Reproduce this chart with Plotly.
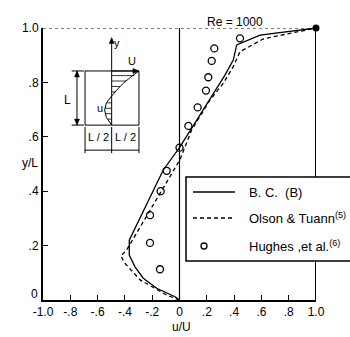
import plotly.graph_objects as go

# Centre-line velocity profile u/U versus height y/L, lid-driven cavity, Re = 1000
bc_u = [0.0, -0.033, -0.167, -0.265, -0.326, -0.368, -0.368, -0.119, 0.0, 0.333, 0.394, 0.419, 0.59, 1.0]
bc_y = [0.0, 0.012, 0.043, 0.08, 0.122, 0.165, 0.22, 0.478, 0.56, 0.827, 0.882, 0.938, 0.974, 1.0]

olson_u = [0.0, -0.094, -0.289, -0.40, -0.43, -0.387, -0.106, 0.004, 0.089, 0.223, 0.321, 0.394, 0.443, 0.614, 1.0]
olson_y = [0.0, 0.018, 0.074, 0.135, 0.162, 0.184, 0.423, 0.517, 0.625, 0.735, 0.797, 0.858, 0.913, 0.96, 1.0]

hughes_u = [-0.143, -0.216, -0.216, -0.138, -0.094, 0.0, 0.065, 0.133, 0.194, 0.211, 0.236, 0.255, 0.443]
hughes_y = [0.113, 0.21, 0.312, 0.40, 0.475, 0.56, 0.64, 0.708, 0.77, 0.819, 0.879, 0.925, 0.962]

series_names = ["B. C.  (B)", "Olson & Tuann<sup>(5)</sup>", "Hughes ,et al.<sup>(6)</sup>"]

x_ticks = [-1.0, -0.8, -0.6, -0.4, -0.2, 0.0, 0.2, 0.4, 0.6, 0.8, 1.0]
x_tick_text = ["-1.0", "-.8", "-.6", "-.4", "-.2", "0", ".2", ".4", ".6", ".8", "1.0"]
y_ticks = [0.0, 0.2, 0.4, 0.6, 0.8, 1.0]
y_tick_text = ["0", ".2", ".4", ".6", ".8", "1.0"]

FONT = "Liberation Sans"
INK = "black"
W, H = 350, 337
ML, MR, MT, MB = 43, 34, 28, 37
PW, PH = W - ML - MR, H - MT - MB
UX, UY = 2.0 / PW, 1.0 / PH  # one pixel in data units along x and y


def px(xp):
    """horizontal pixel -> paper fraction"""
    return (xp - ML) / PW


def py(yp):
    """vertical pixel (from top) -> paper fraction"""
    return (H - MB - yp) / PH


def head(x, y, direction, length=6, half=2.5):
    """filled arrowhead with its tip at (x, y) in data units"""
    if direction == "up":
        pts = [(x, y), (x - half * UX, y - length * UY), (x + half * UX, y - length * UY)]
    elif direction == "down":
        pts = [(x, y), (x - half * UX, y + length * UY), (x + half * UX, y + length * UY)]
    elif direction == "right":
        pts = [(x, y), (x - length * UX, y + half * UY), (x - length * UX, y - half * UY)]
    else:
        pts = [(x, y), (x + length * UX, y + half * UY), (x + length * UX, y - half * UY)]
    path = "M " + " L ".join(f"{a:.4f},{b:.4f}" for a, b in pts) + " Z"
    return dict(type="path", xref="x", yref="y", path=path, fillcolor=INK, line=dict(color=INK, width=0.5))


fig = go.Figure()
fig.add_trace(go.Scatter(x=bc_u, y=bc_y, mode="lines", name=series_names[0],
                         line=dict(color=INK, width=1.3)))
fig.add_trace(go.Scatter(x=olson_u, y=olson_y, mode="lines", name=series_names[1],
                         line=dict(color=INK, width=1.3, dash="4px,3px")))
fig.add_trace(go.Scatter(x=hughes_u, y=hughes_y, mode="markers", name=series_names[2],
                         marker=dict(symbol="circle-open", size=7, color=INK, line=dict(width=1.3))))
# lid corner point
fig.add_trace(go.Scatter(x=[bc_u[-1]], y=[bc_y[-1]], mode="markers",
                         marker=dict(size=7, color=INK), cliponaxis=False))

shapes = []
line_k = dict(color=INK, width=1)
# frame: right side solid, top dotted, centre line at u = 0
shapes.append(dict(type="line", xref="x", yref="y", x0=1, x1=1, y0=0, y1=1, line=dict(color=INK, width=2)))
shapes.append(dict(type="line", xref="x", yref="y", x0=-1, x1=1, y0=1, y1=1, line=dict(color=INK, width=1.2, dash="dot")))
shapes.append(dict(type="line", xref="x", yref="y", x0=0, x1=0, y0=0, y1=1, line=dict(color=INK, width=1.2)))

# inset cavity sketch
cx0, cx1, cxm = -0.692, -0.297, -0.497
cy0, cy1 = 0.643, 0.842
dim_x = -0.751
shapes.append(dict(type="rect", xref="x", yref="y", x0=cx0, x1=cx1, y0=cy0, y1=cy1, line=dict(color=INK, width=1)))
shapes.append(dict(type="line", xref="x", yref="y", x0=cxm, x1=cxm, y0=cy0, y1=0.96, line=line_k))
shapes.append(head(cxm, 0.965, "up"))
shapes.append(dict(type="line", xref="x", yref="y", x0=cxm, x1=cx1, y0=cy1, y1=cy1, line=line_k))
shapes.append(head(cx1, cy1, "right"))
shapes.append(dict(type="path", xref="x", yref="y",
                   path=f"M {cx1},{cy1} Q -0.42,0.80 {cxm},0.75 Q -0.60,0.70 {cxm},{cy0}",
                   line=dict(color=INK, width=1)))
for hy, hx in [(0.825, -0.33), (0.805, -0.39), (0.785, -0.435), (0.765, -0.47),
               (0.725, -0.53), (0.705, -0.545), (0.685, -0.54), (0.665, -0.525)]:
    shapes.append(dict(type="line", xref="x", yref="y", x0=cxm, x1=hx, y0=hy, y1=hy,
                       line=dict(color=INK, width=0.8)))
shapes.append(dict(type="line", xref="x", yref="y", x0=dim_x, x1=dim_x, y0=cy0, y1=cy1, line=line_k))
shapes.append(head(dim_x, cy1, "up"))
shapes.append(head(dim_x, cy0, "down"))
shapes.append(dict(type="line", xref="x", yref="y", x0=-0.79, x1=-0.70, y0=cy1, y1=cy1, line=line_k))
shapes.append(dict(type="line", xref="x", yref="y", x0=-0.79, x1=-0.70, y0=cy0, y1=cy0, line=line_k))
for vx in (cx0, cxm, cx1):
    shapes.append(dict(type="line", xref="x", yref="y", x0=vx, x1=vx, y0=0.540, y1=0.636, line=line_k))
shapes.append(dict(type="line", xref="x", yref="y", x0=cx0, x1=cx1, y0=0.551, y1=0.551, line=line_k))

# key box running off the right edge
shapes.append(dict(type="rect", xref="paper", yref="paper", x0=px(186), x1=px(356), y0=py(261), y1=py(177),
                   fillcolor="white", line=dict(color=INK, width=1.5)))
shapes.append(dict(type="line", xref="paper", yref="paper", x0=px(193), x1=px(235), y0=py(192), y1=py(192),
                   line=dict(color=INK, width=1.3)))
shapes.append(dict(type="line", xref="paper", yref="paper", x0=px(193), x1=px(235), y0=py(218), y1=py(218),
                   line=dict(color=INK, width=1.3, dash="4px,3px")))
shapes.append(dict(type="circle", xref="paper", yref="paper", x0=px(201), x1=px(207), y0=py(249), y1=py(243),
                   line=dict(color=INK, width=1.3)))

txt = dict(family=FONT, color=INK)
annotations = [
    dict(text="Re = 1000", x=px(265), y=py(13), xref="paper", yref="paper", showarrow=False,
         font=dict(size=12, **txt)),
    dict(text="y/L", x=px(20), y=py(163), xref="paper", yref="paper", showarrow=False,
         font=dict(size=12, **txt)),
    dict(text="u/U", x=px(181), y=py(327), xref="paper", yref="paper", yanchor="middle", showarrow=False,
         font=dict(size=12, **txt)),
    # origin label of the height axis, sitting just above the corner
    dict(text=y_tick_text[0], x=px(40), y=py(294), xref="paper", yref="paper",
         xanchor="right", yanchor="middle", showarrow=False, font=dict(size=12, **txt)),
    # sketch labels
    dict(text="y", x=-0.458, y=0.945, xref="x", yref="y", showarrow=False, font=dict(size=11, **txt)),
    dict(text="U", x=-0.345, y=0.879, xref="x", yref="y", showarrow=False, font=dict(size=11, **txt)),
    dict(text="u", x=-0.585, y=0.706, xref="x", yref="y", showarrow=False, font=dict(size=11, **txt)),
    dict(text="L", x=-0.817, y=0.735, xref="x", yref="y", showarrow=False, font=dict(size=12, **txt)),
    dict(text="L / 2", x=-0.597, y=0.600, xref="x", yref="y", showarrow=False, font=dict(size=11, **txt)),
    dict(text="L / 2", x=-0.399, y=0.600, xref="x", yref="y", showarrow=False, font=dict(size=11, **txt)),
]
# key labels
for name, yp in zip(series_names, [192, 218, 246]):
    annotations.append(dict(text=name, x=px(247), y=py(yp), xref="paper", yref="paper",
                            xanchor="left", yanchor="middle", showarrow=False,
                            font=dict(size=13, **txt)))

fig.update_layout(
    width=W, height=H,
    margin=dict(l=ML, r=MR, t=MT, b=MB),
    paper_bgcolor="white", plot_bgcolor="white",
    font=dict(family=FONT, size=12, color=INK),
    showlegend=False,
    shapes=shapes, annotations=annotations,
    xaxis=dict(range=[-1, 1], tickvals=x_ticks, ticktext=x_tick_text, ticks="inside",
               ticklen=5, tickwidth=1, tickcolor=INK, showgrid=False, zeroline=False,
               showline=True, linewidth=2, linecolor=INK, tickfont=dict(size=12)),
    yaxis=dict(range=[0, 1], tickvals=y_ticks[1:], ticktext=y_tick_text[1:], ticks="inside",
               ticklen=5, tickwidth=1, tickcolor=INK, showgrid=False, zeroline=False,
               showline=True, linewidth=2, linecolor=INK, tickfont=dict(size=12)),
)

fig.write_html("out.html")
